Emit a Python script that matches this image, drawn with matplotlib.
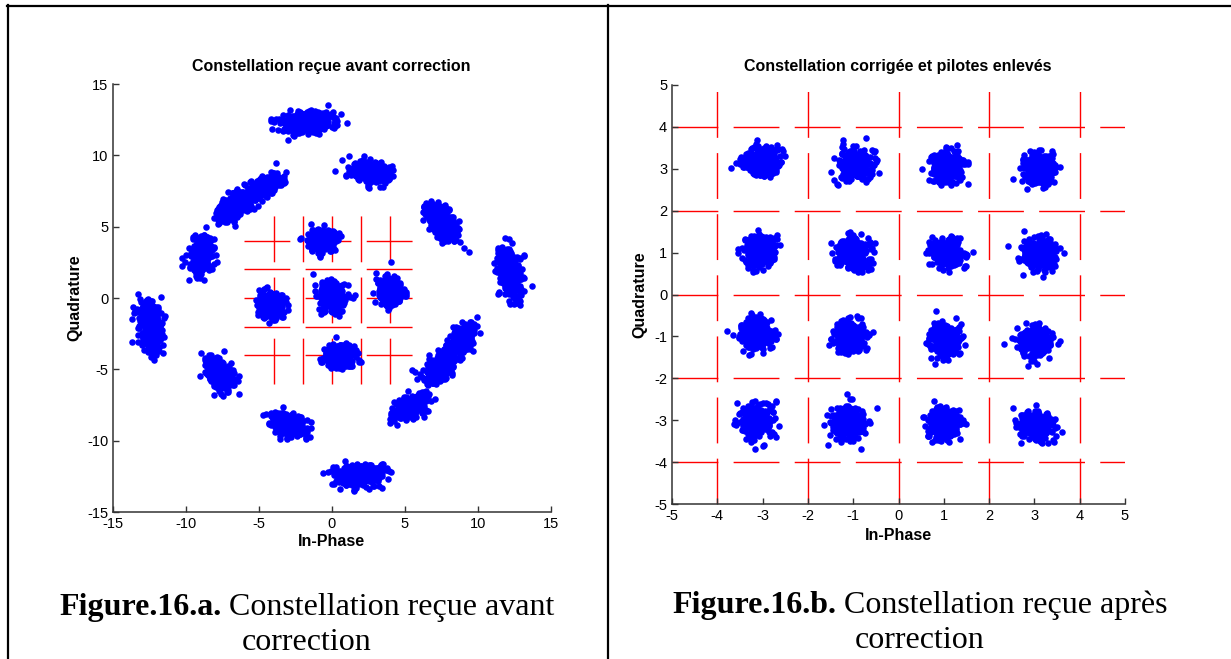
import numpy as np
import matplotlib
matplotlib.use('Agg')
import matplotlib.pyplot as plt
from matplotlib.lines import Line2D

W, H = 1231, 659

# ---- panel a : constellation before correction (cluster centres)
a_cx = [0.04, -0.63, -4.17, 4.03, 0.57, -1.7, 12.15, -12.45, 1.8, 2.57, 7.5, -8.9, -7.68, -2.9, -6.6, -4.7, 5.3, 7.3, 8.9]
a_cy = [0.09, 4.06, -0.5, 0.53, -4.03, 12.35, 1.85, -1.97, -12.4, 8.85, 5.3, 3.0, -5.35, -8.9, 6.5, 7.9, -7.6, -4.9, -2.9]
a_major = [0.48, 0.5, 0.5, 0.5, 0.5, 0.85, 0.85, 0.9, 0.85, 0.7, 0.68, 0.65, 0.65, 0.65, 0.75, 0.6, 0.7, 0.7, 0.65]
a_minor = [0.46, 0.38, 0.42, 0.4, 0.4, 0.38, 0.4, 0.4, 0.38, 0.38, 0.4, 0.4, 0.4, 0.38, 0.4, 0.36, 0.38, 0.4, 0.4]
a_angle = [90, 8, 97, 97, 8, 8, 99, 99, 8, -16, -55, 71, -55, 162, 45, 30, 33, 50, 60]
a_count = [320, 270, 270, 270, 270, 320, 320, 320, 320, 270, 270, 270, 270, 270, 240, 200, 240, 200, 200]

# ---- panel b : corrected constellation, pilots removed
b_cx = [-3.05, -0.98, 1.06, 3.12, -3.08, -1.02, 1.05, 3.1, -3.12, -1.07, 1.0, 3.03, -3.16, -1.1, 0.96, 3.03]
b_cy = [3.18, 3.08, 3.05, 2.98, 1.08, 1.0, 1.0, 0.98, -0.96, -1.0, -1.06, -1.1, -3.02, -3.05, -3.08, -3.14]
b_spread = 0.185
b_count = 280

grid_levels = [-4, -2, 0, 2, 4]

title_a = 'Constellation reçue avant correction'
title_b = 'Constellation corrigée et pilotes enlevés'

sans = 'Liberation Sans'
serif = 'Liberation Serif'
plt.rcParams['axes.unicode_minus'] = False


def fx(x):
	return x / W


def fy(y):
	return 1 - y / H


def make_cloud(rng, cx, cy, major, minor, angle, n):
	# scatter noise around a read-off cluster centre
	u = rng.normal(0, major, n)
	v = rng.normal(0, minor, n)
	t = np.deg2rad(angle)
	return cx + u * np.cos(t) - v * np.sin(t), cy + u * np.sin(t) + v * np.cos(t)


def style_axes(ax, lim, step):
	ax.set_xlim(-lim, lim)
	ax.set_ylim(-lim, lim)
	ticks = np.arange(-lim, lim + step, step)
	ax.set_xticks(ticks)
	ax.set_yticks(ticks)
	ax.spines['top'].set_visible(False)
	ax.spines['right'].set_visible(False)
	for s in ['left', 'bottom']:
		ax.spines[s].set_color('#333333')
		ax.spines[s].set_linewidth(1.1)
	ax.tick_params(direction='in', length=4, width=1, color='#333333', labelsize=10.5, pad=3.5)
	for lab in ax.get_xticklabels() + ax.get_yticklabels():
		lab.set_family(sans)


def grid_dashes(ax, span):
	for g in grid_levels:
		ax.plot([-span, span], [g, g], color='red', lw=1.0, ls=(0, (33, 11)), zorder=1)
		ax.plot([g, g], [-span, span], color='red', lw=1.0, ls=(0, (33, 11)), zorder=1)


def caption(fig, cx, y, bold, rest):
	r = fig.canvas.get_renderer()
	t1 = fig.text(0, fy(y), bold, family=serif, fontweight='bold', fontsize=23, va='baseline')
	t2 = fig.text(0, fy(y), rest, family=serif, fontsize=23, va='baseline')
	w1 = t1.get_window_extent(r).width
	w2 = t2.get_window_extent(r).width
	start = cx - (w1 + w2) / 2
	t1.set_x(fx(start))
	t2.set_x(fx(start + w1))


fig = plt.figure(figsize=(W / 100, H / 100), dpi=100)
rng = np.random.default_rng(3)

# panel a
ax1 = fig.add_axes([fx(113), fy(512), fx(551 - 113), (512 - 84) / H])
grid_dashes(ax1, 6)
for i in range(len(a_cx)):
	x, y = make_cloud(rng, a_cx[i], a_cy[i], a_major[i], a_minor[i], a_angle[i], a_count[i])
	ax1.plot(x, y, 'o', color='blue', ms=4.7, mew=0, zorder=2)
style_axes(ax1, 15, 5)

# panel b
ax2 = fig.add_axes([fx(672), fy(504), fx(1125 - 672), (504 - 85) / H])
grid_dashes(ax2, 5)
for i in range(len(b_cx)):
	x, y = make_cloud(rng, b_cx[i], b_cy[i], b_spread, b_spread, 0, b_count)
	ax2.plot(x, y, 'o', color='blue', ms=4.7, mew=0, zorder=2)
style_axes(ax2, 5, 1)

# titles and axis labels
fig.text(fx(331), fy(67), title_a, family=sans, fontweight='bold', fontsize=11.5, ha='center', va='center')
fig.text(fx(898), fy(67), title_b, family=sans, fontweight='bold', fontsize=11.5, ha='center', va='center')
fig.text(fx(331), fy(542), 'In-Phase', family=sans, fontweight='bold', fontsize=11.5, ha='center', va='center')
fig.text(fx(898), fy(535), 'In-Phase', family=sans, fontweight='bold', fontsize=11.5, ha='center', va='center')
fig.text(fx(75), fy(298), 'Quadrature', family=sans, fontweight='bold', fontsize=11.5, ha='center', va='center', rotation=90)
fig.text(fx(640), fy(295), 'Quadrature', family=sans, fontweight='bold', fontsize=11.5, ha='center', va='center', rotation=90)

# table borders
fig.add_artist(Line2D([fx(7), 1], [fy(6), fy(6)], color='black', lw=1.6))
fig.add_artist(Line2D([fx(8), fx(8)], [fy(5), 0], color='black', lw=1.6))
fig.add_artist(Line2D([fx(608), fx(608)], [fy(5), 0], color='black', lw=1.6))

# captions
caption(fig, 307, 615, 'Figure.16.a.', ' Constellation reçue avant')
fig.text(fx(307), fy(650), 'correction', family=serif, fontsize=23, ha='center', va='baseline')
caption(fig, 920, 613, 'Figure.16.b.', ' Constellation reçue après')
fig.text(fx(920), fy(648), 'correction', family=serif, fontsize=23, ha='center', va='baseline')

fig.savefig('out.png', dpi=100)
